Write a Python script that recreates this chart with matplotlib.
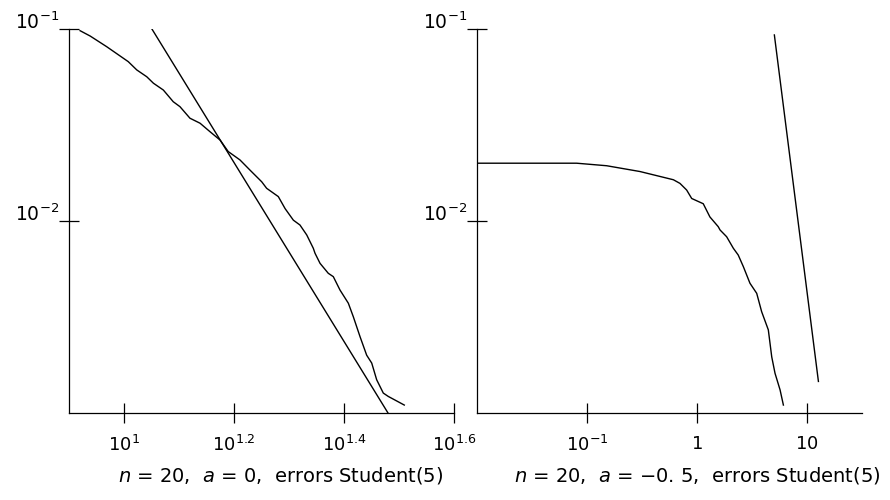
import matplotlib
matplotlib.use("Agg")
import matplotlib.pyplot as plt

plt.rcParams["font.family"] = ["DejaVu Sans"]
plt.rcParams["mathtext.fontset"] = "dejavusans"

# left panel: empirical tail curve and fitted power line
left_x = [8.32, 8.68, 9.30, 10.18, 10.55, 11.00, 11.31, 11.79, 12.29, 12.64,
          13.18, 13.75, 14.33, 14.95, 15.47, 16.25, 16.95, 17.80, 18.17, 19.08,
          19.63, 20.32, 20.89, 21.49, 22.09, 22.25, 22.72, 23.52, 24.02, 24.70,
          25.58, 26.12, 26.86, 27.62, 28.21, 28.80, 29.61, 30.23, 32.33]
left_y = [0.0980, 0.0919, 0.0809, 0.0676, 0.0612, 0.0564, 0.0522, 0.0481, 0.0418, 0.0394,
          0.0343, 0.0323, 0.0292, 0.0264, 0.0230, 0.0208, 0.0184, 0.0160, 0.0148, 0.0134,
          0.0116, 0.0101, 0.00953, 0.00846, 0.00721, 0.00679, 0.00602, 0.00534, 0.00513, 0.00437,
          0.00373, 0.00317, 0.00250, 0.00200, 0.00182, 0.00149, 0.00127, 0.00122, 0.00110]
left_line_x = [11.24, 30.2]
left_line_y = [0.1, 0.001]

# right panel
right_x = [0.01, 0.0805, 0.151, 0.303, 0.610, 0.700, 0.805, 0.895, 1.14, 1.31,
           1.56, 1.62, 1.86, 2.14, 2.37, 2.64, 3.03, 3.49, 3.87, 4.45,
           4.78, 5.12, 5.69, 6.10]
right_y = [0.0200, 0.0200, 0.0194, 0.0181, 0.0164, 0.0157, 0.0145, 0.0131, 0.0123, 0.0105,
           0.00934, 0.00898, 0.00828, 0.00721, 0.00665, 0.00578, 0.00474, 0.00420, 0.00337, 0.00271,
           0.00196, 0.00161, 0.00132, 0.00110]
right_line_x = [5.05, 12.7]
right_line_y = [0.0931, 0.00146]

left_xticks = [10**1, 10**1.2, 10**1.4, 10**1.6]
left_xlabels = [r"$10^{1}$", r"$10^{1.2}$", r"$10^{1.4}$", r"$10^{1.6}$"]
right_xticks = [0.1, 1, 10]
right_xlabels = [r"$10^{-1}$", r"$1$", r"$10$"]
yticks = [0.1, 0.01]
ylabels = [r"$10^{-1}$", r"$10^{-2}$"]

captions = [r"$n$ = 20,  $a$ = 0,  errors Student(5)",
            r"$n$ = 20,  $a$ = $-$0. 5,  errors Student(5)"]

fig = plt.figure(figsize=(8.9, 5.0), dpi=100)
ax1 = fig.add_axes([69/890, 87/500, 385/890, 384/500])
ax2 = fig.add_axes([477/890, 87/500, 385/890, 384/500])

ax1.plot(left_x, left_y, color="black", lw=1.0)
ax1.plot(left_line_x, left_line_y, color="black", lw=1.0)
ax2.plot(right_x, right_y, color="black", lw=1.0)
ax2.plot(right_line_x, right_line_y, color="black", lw=1.0)

ax1.set_xlim(10**0.9, 10**1.6)
ax2.set_xlim(10**-2, 10**1.5)

for ax, xt, xl in [(ax1, left_xticks, left_xlabels), (ax2, right_xticks, right_xlabels)]:
    ax.set_xscale("log")
    ax.set_yscale("log")
    ax.set_ylim(1e-3, 1e-1)
    ax.spines["top"].set_visible(False)
    ax.spines["right"].set_visible(False)
    for s in ["left", "bottom"]:
        ax.spines[s].set_linewidth(0.9)
    ax.set_xticks(xt)
    ax.set_xticklabels(xl)
    ax.set_yticks(yticks)
    ax.set_yticklabels(ylabels)
    ax.minorticks_off()
    ax.tick_params(direction="inout", length=14, width=0.9, labelsize=13)
    ax.tick_params(axis="x", pad=9)
    ax.tick_params(axis="y", pad=0, labelsize=13.5)
    for lab in ax.get_yticklabels():
        lab.set_verticalalignment("baseline")

fig.text(281/890, 0.036, captions[0], ha="center", va="baseline", fontsize=14)
fig.text(697/890, 0.036, captions[1], ha="center", va="baseline", fontsize=14)

fig.savefig("out.png", dpi=100)
